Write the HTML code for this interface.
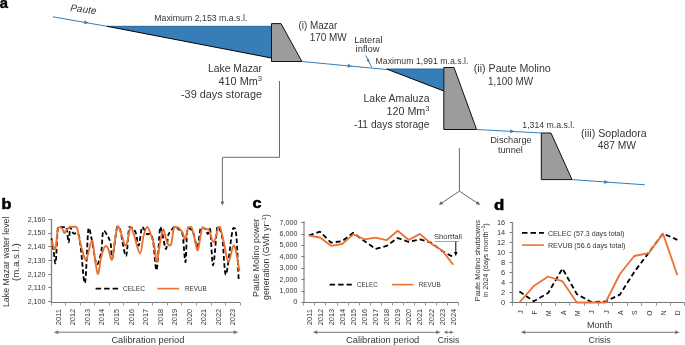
<!DOCTYPE html>
<html><head><meta charset="utf-8"><style>
html,body{margin:0;padding:0;background:#fff;}
svg{display:block;font-family:"Liberation Sans", sans-serif;will-change:transform;}
</style></head><body>
<svg width="685" height="345" viewBox="0 0 685 345">
<rect width="685" height="345" fill="#fff"/>
<text x="-0.3" y="7.8" font-size="15" text-anchor="start" fill="#000" font-weight="bold" textLength="8.2" lengthAdjust="spacingAndGlyphs" stroke="#000" stroke-width="0.4" >a</text>
<text x="70" y="11" font-size="10" font-style="italic" fill="#363636" transform="rotate(7 70 11)">Paute</text>
<line x1="52.8" y1="16.8" x2="107" y2="26.3" stroke="#377eb8" stroke-width="1" />
<polygon points="88.5,23.05738007380074 84.02,24.3 84.71,20.36" fill="#377eb8" stroke="none" stroke-width="1" />
<polygon points="107,26.3 271.5,26.3 271.5,58" fill="#377eb8" stroke="none" stroke-width="1" />
<line x1="107" y1="26.3" x2="271.5" y2="26.3" stroke="#1e5d98" stroke-width="0.9" />
<line x1="107" y1="26.3" x2="271.5" y2="58" stroke="#000" stroke-width="1" />
<polygon points="271.5,23.6 281,23.6 301.9,61.5 271.5,61.5" fill="#9c9c9c" stroke="#111" stroke-width="1" />
<text x="154.3" y="21.2" font-size="8.8" text-anchor="start" fill="#363636" font-weight="normal" textLength="93" lengthAdjust="spacingAndGlyphs"  >Maximum 2,153 m.a.s.l.</text>
<text x="298.4" y="29" font-size="10" text-anchor="start" fill="#363636" font-weight="normal" textLength="39" lengthAdjust="spacingAndGlyphs"  >(i) Mazar</text>
<text x="309.7" y="41.1" font-size="10" text-anchor="start" fill="#363636" font-weight="normal" textLength="37" lengthAdjust="spacingAndGlyphs"  >170 MW</text>
<text x="262" y="72.1" font-size="10" text-anchor="end" fill="#363636" font-weight="normal" textLength="54" lengthAdjust="spacingAndGlyphs"  >Lake Mazar</text>
<text x="262" y="84.8" font-size="10" text-anchor="end" fill="#363636" font-weight="normal" textLength="43.5" lengthAdjust="spacingAndGlyphs"  >410 Mm<tspan font-size="7" dy="-4">3</tspan></text>
<text x="262" y="97.7" font-size="10" text-anchor="end" fill="#363636" font-weight="normal" textLength="81" lengthAdjust="spacingAndGlyphs"  >-39 days storage</text>
<line x1="301.9" y1="61.5" x2="386.6" y2="69.5" stroke="#377eb8" stroke-width="1" />
<polygon points="352,66.23199527744983 347.63,67.83 348.01,63.85" fill="#377eb8" stroke="none" stroke-width="1" />
<line x1="365.7" y1="55.4" x2="371.8" y2="67.6" stroke="#377eb8" stroke-width="1" />
<polygon points="369.3,62.6 366.3,60.19 369.17,58.75" fill="#377eb8" stroke="none" stroke-width="1" />
<text x="354.2" y="42.8" font-size="8.8" text-anchor="start" fill="#363636" font-weight="normal" textLength="28.3" lengthAdjust="spacingAndGlyphs"  >Lateral</text>
<text x="355.6" y="51.6" font-size="8.8" text-anchor="start" fill="#363636" font-weight="normal" textLength="24" lengthAdjust="spacingAndGlyphs"  >inflow</text>
<text x="375.5" y="64.3" font-size="8.8" text-anchor="start" fill="#363636" font-weight="normal" textLength="93" lengthAdjust="spacingAndGlyphs"  >Maximum 1,991 m.a.s.l.</text>
<polygon points="386.6,69 443.8,69 443.8,91" fill="#377eb8" stroke="none" stroke-width="1" />
<line x1="386.6" y1="69" x2="443.8" y2="69" stroke="#1e5d98" stroke-width="0.9" />
<line x1="386.6" y1="69" x2="443.8" y2="91" stroke="#000" stroke-width="1" />
<polygon points="443.8,67.5 454,67.5 476.6,129.5 443.8,129.5" fill="#9c9c9c" stroke="#111" stroke-width="1" />
<text x="473.8" y="72" font-size="10" text-anchor="start" fill="#363636" font-weight="normal" textLength="77" lengthAdjust="spacingAndGlyphs"  >(ii) Paute Molino</text>
<text x="488" y="84.8" font-size="10" text-anchor="start" fill="#363636" font-weight="normal" textLength="45" lengthAdjust="spacingAndGlyphs"  >1,100 MW</text>
<text x="429.5" y="101.5" font-size="10" text-anchor="end" fill="#363636" font-weight="normal" textLength="66" lengthAdjust="spacingAndGlyphs"  >Lake Amaluza</text>
<text x="429.5" y="114.6" font-size="10" text-anchor="end" fill="#363636" font-weight="normal" textLength="43" lengthAdjust="spacingAndGlyphs"  >120 Mm<tspan font-size="7" dy="-4">3</tspan></text>
<text x="429.5" y="127.6" font-size="10" text-anchor="end" fill="#363636" font-weight="normal" textLength="75.5" lengthAdjust="spacingAndGlyphs"  >-11 days storage</text>
<line x1="476.6" y1="129.5" x2="541.3" y2="133" stroke="#377eb8" stroke-width="1" />
<polygon points="514.5,131.55023183925812 510.2,133.32 510.41,129.33" fill="#377eb8" stroke="none" stroke-width="1" />
<text x="522.3" y="128.1" font-size="8.8" text-anchor="start" fill="#363636" font-weight="normal" textLength="52.3" lengthAdjust="spacingAndGlyphs"  >1,314 m.a.s.l.</text>
<text x="490.2" y="143.4" font-size="8.8" text-anchor="start" fill="#363636" font-weight="normal" textLength="41.5" lengthAdjust="spacingAndGlyphs"  >Discharge</text>
<text x="497.9" y="152.7" font-size="8.8" text-anchor="start" fill="#363636" font-weight="normal" textLength="25" lengthAdjust="spacingAndGlyphs"  >tunnel</text>
<polygon points="541.3,133 551,133 572,179.6 541.3,179.6" fill="#9c9c9c" stroke="#111" stroke-width="1" />
<text x="581" y="137.4" font-size="10" text-anchor="start" fill="#363636" font-weight="normal" textLength="65.7" lengthAdjust="spacingAndGlyphs"  >(iii) Sopladora</text>
<text x="597.8" y="149.3" font-size="10" text-anchor="start" fill="#363636" font-weight="normal" textLength="38.2" lengthAdjust="spacingAndGlyphs"  >487 MW</text>
<line x1="572" y1="179.6" x2="644.8" y2="184.8" stroke="#377eb8" stroke-width="1" />
<polygon points="608.5,182.20714285714286 604.17,183.9 604.45,179.91" fill="#377eb8" stroke="none" stroke-width="1" />
<polyline points="279.5,81 279.5,157.3 222.4,157.3 222.4,202" fill="none" stroke="#6b6b6b" stroke-width="1" stroke-linejoin="round" />
<polygon points="222.4,205.6 220.4,201.6 224.4,201.6" fill="#6b6b6b" stroke="none" stroke-width="1" />
<polyline points="459.4,148 459.4,191.2 441,203.5" fill="none" stroke="#6b6b6b" stroke-width="1" stroke-linejoin="round" />
<polyline points="459.4,191.2 478,203.5" fill="none" stroke="#6b6b6b" stroke-width="1" stroke-linejoin="round" />
<polygon points="438.7,205 441.09,201.01 443.3,204.33" fill="#6b6b6b" stroke="none" stroke-width="1" />
<polygon points="480.3,205 475.69,204.35 477.9,201.02" fill="#6b6b6b" stroke="none" stroke-width="1" />
<text x="1.6" y="209.4" font-size="14" text-anchor="start" fill="#000" font-weight="bold" textLength="9.9" lengthAdjust="spacingAndGlyphs" stroke="#000" stroke-width="0.5" >b</text>
<text x="252.5" y="207.6" font-size="14" text-anchor="start" fill="#000" font-weight="bold" textLength="9.0" lengthAdjust="spacingAndGlyphs" stroke="#000" stroke-width="0.5" >c</text>
<text x="494" y="209.8" font-size="14" text-anchor="start" fill="#000" font-weight="bold" textLength="10.3" lengthAdjust="spacingAndGlyphs" stroke="#000" stroke-width="0.5" >d</text>
<line x1="51.5" y1="219" x2="51.5" y2="303.0" stroke="#8a8a8a" stroke-width="1.4" />
<line x1="51.0" y1="302.5" x2="240.1" y2="302.5" stroke="#777777" stroke-width="1" />
<line x1="48.3" y1="219.5" x2="51.5" y2="219.5" stroke="#777777" stroke-width="1" />
<text x="45.5" y="221.8" font-size="6.8" text-anchor="end" fill="#363636" font-weight="normal" textLength="17.8" lengthAdjust="spacingAndGlyphs"  >2,160</text>
<line x1="48.3" y1="233.5" x2="51.5" y2="233.5" stroke="#777777" stroke-width="1" />
<text x="45.5" y="235.48000000000002" font-size="6.8" text-anchor="end" fill="#363636" font-weight="normal" textLength="17.8" lengthAdjust="spacingAndGlyphs"  >2,150</text>
<line x1="48.3" y1="246.5" x2="51.5" y2="246.5" stroke="#777777" stroke-width="1" />
<text x="45.5" y="249.16" font-size="6.8" text-anchor="end" fill="#363636" font-weight="normal" textLength="17.8" lengthAdjust="spacingAndGlyphs"  >2,140</text>
<line x1="48.3" y1="260.5" x2="51.5" y2="260.5" stroke="#777777" stroke-width="1" />
<text x="45.5" y="262.84" font-size="6.8" text-anchor="end" fill="#363636" font-weight="normal" textLength="17.8" lengthAdjust="spacingAndGlyphs"  >2,130</text>
<line x1="48.3" y1="274.5" x2="51.5" y2="274.5" stroke="#777777" stroke-width="1" />
<text x="45.5" y="276.52" font-size="6.8" text-anchor="end" fill="#363636" font-weight="normal" textLength="17.8" lengthAdjust="spacingAndGlyphs"  >2,120</text>
<line x1="48.3" y1="287.5" x2="51.5" y2="287.5" stroke="#777777" stroke-width="1" />
<text x="45.5" y="290.2" font-size="6.8" text-anchor="end" fill="#363636" font-weight="normal" textLength="17.8" lengthAdjust="spacingAndGlyphs"  >2,110</text>
<line x1="48.3" y1="301.5" x2="51.5" y2="301.5" stroke="#777777" stroke-width="1" />
<text x="45.5" y="303.88" font-size="6.8" text-anchor="end" fill="#363636" font-weight="normal" textLength="17.8" lengthAdjust="spacingAndGlyphs"  >2,100</text>
<line x1="51.5" y1="302.5" x2="51.5" y2="305.5" stroke="#999" stroke-width="1" />
<line x1="65.5" y1="302.5" x2="65.5" y2="305.5" stroke="#999" stroke-width="1" />
<line x1="80.5" y1="302.5" x2="80.5" y2="305.5" stroke="#999" stroke-width="1" />
<line x1="94.5" y1="302.5" x2="94.5" y2="305.5" stroke="#999" stroke-width="1" />
<line x1="109.5" y1="302.5" x2="109.5" y2="305.5" stroke="#999" stroke-width="1" />
<line x1="123.5" y1="302.5" x2="123.5" y2="305.5" stroke="#999" stroke-width="1" />
<line x1="138.5" y1="302.5" x2="138.5" y2="305.5" stroke="#999" stroke-width="1" />
<line x1="152.5" y1="302.5" x2="152.5" y2="305.5" stroke="#999" stroke-width="1" />
<line x1="167.5" y1="302.5" x2="167.5" y2="305.5" stroke="#999" stroke-width="1" />
<line x1="181.5" y1="302.5" x2="181.5" y2="305.5" stroke="#999" stroke-width="1" />
<line x1="196.5" y1="302.5" x2="196.5" y2="305.5" stroke="#999" stroke-width="1" />
<line x1="211.5" y1="302.5" x2="211.5" y2="305.5" stroke="#999" stroke-width="1" />
<line x1="225.5" y1="302.5" x2="225.5" y2="305.5" stroke="#999" stroke-width="1" />
<line x1="240.5" y1="302.5" x2="240.5" y2="305.5" stroke="#999" stroke-width="1" />
<text x="60.848" y="308.9" font-size="6.8" text-anchor="end" fill="#363636" transform="rotate(-90 60.848 308.9)" textLength="16.4" lengthAdjust="spacingAndGlyphs">2011</text>
<text x="75.38799999999999" y="308.9" font-size="6.8" text-anchor="end" fill="#363636" transform="rotate(-90 75.38799999999999 308.9)" textLength="16.4" lengthAdjust="spacingAndGlyphs">2012</text>
<text x="89.928" y="308.9" font-size="6.8" text-anchor="end" fill="#363636" transform="rotate(-90 89.928 308.9)" textLength="16.4" lengthAdjust="spacingAndGlyphs">2013</text>
<text x="104.46799999999999" y="308.9" font-size="6.8" text-anchor="end" fill="#363636" transform="rotate(-90 104.46799999999999 308.9)" textLength="16.4" lengthAdjust="spacingAndGlyphs">2014</text>
<text x="119.008" y="308.9" font-size="6.8" text-anchor="end" fill="#363636" transform="rotate(-90 119.008 308.9)" textLength="16.4" lengthAdjust="spacingAndGlyphs">2015</text>
<text x="133.548" y="308.9" font-size="6.8" text-anchor="end" fill="#363636" transform="rotate(-90 133.548 308.9)" textLength="16.4" lengthAdjust="spacingAndGlyphs">2016</text>
<text x="148.088" y="308.9" font-size="6.8" text-anchor="end" fill="#363636" transform="rotate(-90 148.088 308.9)" textLength="16.4" lengthAdjust="spacingAndGlyphs">2017</text>
<text x="162.62800000000001" y="308.9" font-size="6.8" text-anchor="end" fill="#363636" transform="rotate(-90 162.62800000000001 308.9)" textLength="16.4" lengthAdjust="spacingAndGlyphs">2018</text>
<text x="177.168" y="308.9" font-size="6.8" text-anchor="end" fill="#363636" transform="rotate(-90 177.168 308.9)" textLength="16.4" lengthAdjust="spacingAndGlyphs">2019</text>
<text x="191.708" y="308.9" font-size="6.8" text-anchor="end" fill="#363636" transform="rotate(-90 191.708 308.9)" textLength="16.4" lengthAdjust="spacingAndGlyphs">2020</text>
<text x="206.24800000000002" y="308.9" font-size="6.8" text-anchor="end" fill="#363636" transform="rotate(-90 206.24800000000002 308.9)" textLength="16.4" lengthAdjust="spacingAndGlyphs">2021</text>
<text x="220.788" y="308.9" font-size="6.8" text-anchor="end" fill="#363636" transform="rotate(-90 220.788 308.9)" textLength="16.4" lengthAdjust="spacingAndGlyphs">2022</text>
<text x="235.328" y="308.9" font-size="6.8" text-anchor="end" fill="#363636" transform="rotate(-90 235.328 308.9)" textLength="16.4" lengthAdjust="spacingAndGlyphs">2023</text>
<text x="9.0" y="261.8" font-size="9" text-anchor="middle" fill="#363636" transform="rotate(-90 9.0 261.8)" textLength="90.5" lengthAdjust="spacingAndGlyphs">Lake Mazar water level</text>
<text x="19.2" y="262.2" font-size="9" text-anchor="middle" fill="#363636" transform="rotate(-90 19.2 262.2)" textLength="37.7" lengthAdjust="spacingAndGlyphs">(m.a.s.l.)</text>
<path d="M51.5,238.4 C51.83,240.33 52.80,245.95 53.5,250 C54.20,254.05 54.95,266.50 55.7,262.7 C56.45,258.90 56.92,233.12 58,227.2 C59.08,227.20 60.83,227.23 62.2,227.2 C63.57,227.20 65.12,227.00 66.2,227 C67.28,229.53 68.02,242.40 68.7,242.4 C69.38,242.40 69.53,228.52 70.3,227 C71.07,227.00 71.95,232.08 73.3,233.3 C74.65,234.52 77.12,231.52 78.4,234.3 C79.68,237.08 79.90,241.92 81,250 C82.10,258.08 83.75,286.45 85,282.8 C86.25,279.15 87.33,235.08 88.5,228.1 C89.67,227.20 90.65,234.88 92,240.9 C93.35,246.92 95.05,262.45 96.6,264.2 C98.15,265.95 100.22,256.83 101.3,251.4 C102.38,245.97 102.13,234.32 103.1,231.6 C104.07,228.88 105.85,233.17 107.1,235.1 C108.35,237.03 109.72,239.38 110.6,243.2 C111.48,247.02 111.32,260.70 112.4,258 C113.48,255.30 115.82,231.78 117.1,227 C118.38,227.00 118.62,227.20 120.1,229.3 C121.58,234.13 124.45,256.38 126,256 C127.55,255.62 127.85,231.07 129.4,227 C130.95,227.00 133.75,228.50 135.3,231.6 C136.85,234.70 137.55,246.37 138.7,245.6 C139.85,244.83 140.83,228.93 142.2,227 C143.57,227.00 145.65,232.83 146.9,234 C148.15,235.17 148.67,232.85 149.7,234 C150.73,235.15 151.95,234.90 153.1,240.9 C154.25,246.90 155.43,272.32 156.6,270 C157.77,267.68 159.13,233.00 160.1,227 C161.07,227.00 161.43,230.33 162.4,234 C163.37,237.67 164.92,248.82 165.9,249 C166.88,249.18 167.52,238.00 168.3,235.1 C169.08,232.20 169.63,232.95 170.6,231.6 C171.57,230.25 172.75,227.38 174.1,227 C175.45,227.00 177.30,228.13 178.7,229.3 C180.10,230.47 181.37,228.55 182.5,234 C183.63,239.45 184.67,262.78 185.5,262 C186.33,261.22 186.28,234.37 187.5,229.3 C188.72,227.20 191.15,228.70 192.8,231.6 C194.45,234.50 196.05,247.40 197.4,246.7 C198.75,246.00 199.53,230.30 200.9,227.4 C202.27,227.20 204.43,228.20 205.6,229.3 C206.77,230.40 207.13,234.00 207.9,234 C208.67,234.00 209.33,227.20 210.2,229.3 C211.07,234.52 211.93,265.68 213.1,265.3 C214.27,264.92 216.22,233.20 217.2,227 C218.18,227.00 218.13,227.20 219,228.1 C219.87,230.03 221.25,230.85 222.4,238.6 C223.55,246.35 224.35,275.18 225.9,274.6 C227.45,274.02 230.33,242.85 231.7,235.1 C233.07,227.35 233.32,227.90 234.1,228.1 C234.88,228.30 235.63,227.58 236.4,236.3 C237.17,245.02 238.32,273.05 238.7,280.4" fill="none" stroke="#000" stroke-width="1.8" stroke-linejoin="round" stroke-dasharray="4.5 2.6"/>
<path d="M51.5,239.8 C52.12,241.40 54.15,251.12 55.2,249.4 C56.25,247.68 57.05,233.20 57.8,229.5 C58.55,226.80 58.93,227.28 59.7,227.2 C60.47,227.12 61.63,228.03 62.4,229 C63.17,229.97 63.65,232.77 64.3,233 C64.95,233.23 65.43,231.40 66.3,230.4 C67.17,229.40 68.38,227.60 69.5,227 C70.62,226.80 71.92,226.83 73,226.8 C74.08,226.80 75.23,226.80 76,226.8 C76.77,227.30 77.02,227.67 77.6,229.8 C78.18,231.93 78.67,236.02 79.5,239.6 C80.33,243.18 81.48,247.98 82.6,251.3 C83.72,254.62 84.67,261.30 86.2,259.5 C87.73,257.70 90.42,241.25 91.8,240.5 C93.18,239.75 93.50,249.42 94.5,255 C95.50,260.58 96.72,273.50 97.8,274 C98.88,274.50 99.87,262.50 101,258 C102.13,253.50 103.43,248.63 104.6,247 C105.77,245.37 106.77,246.08 108,248.2 C109.23,250.32 110.83,261.07 112,259.7 C113.17,258.33 114.03,245.62 115,240 C115.97,234.38 116.80,227.17 117.8,226 C118.80,226.00 119.63,229.73 121,233 C122.37,236.27 124.40,246.60 126,245.6 C127.60,244.60 129.27,228.77 130.6,227 C131.93,226.80 132.43,230.58 134,235 C135.57,239.42 138.42,253.33 140,253.5 C141.58,253.67 142.28,240.42 143.5,236 C144.72,231.58 146.00,227.00 147.3,227 C148.60,227.00 150.10,232.67 151.3,236 C152.50,239.33 153.58,242.67 154.5,247 C155.42,251.33 155.88,262.67 156.8,262 C157.72,261.33 158.93,248.40 160,243 C161.07,237.60 162.23,230.43 163.2,229.6 C164.17,228.77 164.97,235.52 165.8,238 C166.63,240.48 167.30,243.52 168.2,244.5 C169.10,245.48 170.23,246.73 171.2,243.9 C172.17,241.07 173.00,230.28 174,227.5 C175.00,226.80 176.27,226.98 177.2,227.2 C178.13,227.42 178.68,227.88 179.6,228.8 C180.52,229.72 181.78,230.92 182.7,232.7 C183.62,234.48 184.17,240.42 185.1,239.5 C186.03,238.58 187.23,229.25 188.3,227.2 C189.37,226.80 190.43,226.80 191.5,227.2 C192.57,229.17 193.63,235.20 194.7,239 C195.77,242.80 196.67,251.82 197.9,250 C199.13,248.18 200.63,231.55 202.1,228.1 C203.57,226.80 205.53,228.92 206.7,229.3 C207.87,229.68 207.93,228.27 209.1,230.4 C210.27,232.53 212.15,242.67 213.7,242.1 C215.25,241.53 217.33,229.52 218.4,227 C219.47,226.80 219.17,226.80 220.1,227 C221.03,229.67 222.63,237.20 224,243 C225.37,248.80 226.62,261.37 228.3,261.8 C229.98,262.23 232.25,244.05 234.1,245.6 C235.95,247.15 238.52,266.85 239.4,271.1" fill="none" stroke="#eb7132" stroke-width="1.9" stroke-linejoin="round" />
<line x1="95.6" y1="288.6" x2="118.1" y2="288.6" stroke="#000" stroke-width="1.8" stroke-dasharray="5.5 3"/>
<text x="122.9" y="291.2" font-size="7.2" text-anchor="start" fill="#363636" font-weight="normal" textLength="22" lengthAdjust="spacingAndGlyphs"  >CELEC</text>
<line x1="157.4" y1="288.6" x2="179.1" y2="288.6" stroke="#eb7132" stroke-width="1.6" />
<text x="185" y="291.2" font-size="7.2" text-anchor="start" fill="#363636" font-weight="normal" textLength="21.8" lengthAdjust="spacingAndGlyphs"  >REVUB</text>
<line x1="57.3" y1="332.2" x2="234.7" y2="332.2" stroke="#777777" stroke-width="1" />
<polygon points="53.8,332.2 58.3,330.2 58.3,334.2" fill="#777777" stroke="none" stroke-width="1" />
<polygon points="238.2,332.2 233.7,334.2 233.7,330.2" fill="#777777" stroke="none" stroke-width="1" />
<text x="111.4" y="343.2" font-size="9.3" text-anchor="start" fill="#363636" font-weight="normal" textLength="73" lengthAdjust="spacingAndGlyphs"  >Calibration period</text>
<line x1="304" y1="221.5" x2="304" y2="303.0" stroke="#a8a8a8" stroke-width="1.7" />
<line x1="304.0" y1="302.5" x2="458.8" y2="302.5" stroke="#777777" stroke-width="1" />
<line x1="301.3" y1="302.5" x2="304.5" y2="302.5" stroke="#777777" stroke-width="1" />
<text x="297.4" y="304.4" font-size="6.8" text-anchor="end" fill="#363636" font-weight="normal" textLength="4.2" lengthAdjust="spacingAndGlyphs"  >0</text>
<line x1="301.3" y1="291.5" x2="304.5" y2="291.5" stroke="#777777" stroke-width="1" />
<text x="297.4" y="293.01" font-size="6.8" text-anchor="end" fill="#363636" font-weight="normal" textLength="17.8" lengthAdjust="spacingAndGlyphs"  >1,000</text>
<line x1="301.3" y1="279.5" x2="304.5" y2="279.5" stroke="#777777" stroke-width="1" />
<text x="297.4" y="281.62" font-size="6.8" text-anchor="end" fill="#363636" font-weight="normal" textLength="17.8" lengthAdjust="spacingAndGlyphs"  >2,000</text>
<line x1="301.3" y1="268.5" x2="304.5" y2="268.5" stroke="#777777" stroke-width="1" />
<text x="297.4" y="270.23" font-size="6.8" text-anchor="end" fill="#363636" font-weight="normal" textLength="17.8" lengthAdjust="spacingAndGlyphs"  >3,000</text>
<line x1="301.3" y1="256.5" x2="304.5" y2="256.5" stroke="#777777" stroke-width="1" />
<text x="297.4" y="258.84" font-size="6.8" text-anchor="end" fill="#363636" font-weight="normal" textLength="17.8" lengthAdjust="spacingAndGlyphs"  >4,000</text>
<line x1="301.3" y1="245.5" x2="304.5" y2="245.5" stroke="#777777" stroke-width="1" />
<text x="297.4" y="247.45" font-size="6.8" text-anchor="end" fill="#363636" font-weight="normal" textLength="17.8" lengthAdjust="spacingAndGlyphs"  >5,000</text>
<line x1="301.3" y1="234.5" x2="304.5" y2="234.5" stroke="#777777" stroke-width="1" />
<text x="297.4" y="236.06" font-size="6.8" text-anchor="end" fill="#363636" font-weight="normal" textLength="17.8" lengthAdjust="spacingAndGlyphs"  >6,000</text>
<line x1="301.3" y1="222.5" x2="304.5" y2="222.5" stroke="#777777" stroke-width="1" />
<text x="297.4" y="224.67" font-size="6.8" text-anchor="end" fill="#363636" font-weight="normal" textLength="17.8" lengthAdjust="spacingAndGlyphs"  >7,000</text>
<line x1="303.5" y1="302.5" x2="303.5" y2="305.5" stroke="#999" stroke-width="1" />
<line x1="314.5" y1="302.5" x2="314.5" y2="305.5" stroke="#999" stroke-width="1" />
<line x1="325.5" y1="302.5" x2="325.5" y2="305.5" stroke="#999" stroke-width="1" />
<line x1="337.5" y1="302.5" x2="337.5" y2="305.5" stroke="#999" stroke-width="1" />
<line x1="348.5" y1="302.5" x2="348.5" y2="305.5" stroke="#999" stroke-width="1" />
<line x1="359.5" y1="302.5" x2="359.5" y2="305.5" stroke="#999" stroke-width="1" />
<line x1="370.5" y1="302.5" x2="370.5" y2="305.5" stroke="#999" stroke-width="1" />
<line x1="381.5" y1="302.5" x2="381.5" y2="305.5" stroke="#999" stroke-width="1" />
<line x1="392.5" y1="302.5" x2="392.5" y2="305.5" stroke="#999" stroke-width="1" />
<line x1="403.5" y1="302.5" x2="403.5" y2="305.5" stroke="#999" stroke-width="1" />
<line x1="414.5" y1="302.5" x2="414.5" y2="305.5" stroke="#999" stroke-width="1" />
<line x1="425.5" y1="302.5" x2="425.5" y2="305.5" stroke="#999" stroke-width="1" />
<line x1="436.5" y1="302.5" x2="436.5" y2="305.5" stroke="#999" stroke-width="1" />
<line x1="447.5" y1="302.5" x2="447.5" y2="305.5" stroke="#999" stroke-width="1" />
<line x1="458.5" y1="302.5" x2="458.5" y2="305.5" stroke="#999" stroke-width="1" />
<text x="311.748" y="308.9" font-size="6.8" text-anchor="end" fill="#363636" transform="rotate(-90 311.748 308.9)" textLength="16.4" lengthAdjust="spacingAndGlyphs">2011</text>
<text x="322.818" y="308.9" font-size="6.8" text-anchor="end" fill="#363636" transform="rotate(-90 322.818 308.9)" textLength="16.4" lengthAdjust="spacingAndGlyphs">2012</text>
<text x="333.888" y="308.9" font-size="6.8" text-anchor="end" fill="#363636" transform="rotate(-90 333.888 308.9)" textLength="16.4" lengthAdjust="spacingAndGlyphs">2013</text>
<text x="344.95799999999997" y="308.9" font-size="6.8" text-anchor="end" fill="#363636" transform="rotate(-90 344.95799999999997 308.9)" textLength="16.4" lengthAdjust="spacingAndGlyphs">2014</text>
<text x="356.02799999999996" y="308.9" font-size="6.8" text-anchor="end" fill="#363636" transform="rotate(-90 356.02799999999996 308.9)" textLength="16.4" lengthAdjust="spacingAndGlyphs">2015</text>
<text x="367.09799999999996" y="308.9" font-size="6.8" text-anchor="end" fill="#363636" transform="rotate(-90 367.09799999999996 308.9)" textLength="16.4" lengthAdjust="spacingAndGlyphs">2016</text>
<text x="378.168" y="308.9" font-size="6.8" text-anchor="end" fill="#363636" transform="rotate(-90 378.168 308.9)" textLength="16.4" lengthAdjust="spacingAndGlyphs">2017</text>
<text x="389.238" y="308.9" font-size="6.8" text-anchor="end" fill="#363636" transform="rotate(-90 389.238 308.9)" textLength="16.4" lengthAdjust="spacingAndGlyphs">2018</text>
<text x="400.308" y="308.9" font-size="6.8" text-anchor="end" fill="#363636" transform="rotate(-90 400.308 308.9)" textLength="16.4" lengthAdjust="spacingAndGlyphs">2019</text>
<text x="411.378" y="308.9" font-size="6.8" text-anchor="end" fill="#363636" transform="rotate(-90 411.378 308.9)" textLength="16.4" lengthAdjust="spacingAndGlyphs">2020</text>
<text x="422.448" y="308.9" font-size="6.8" text-anchor="end" fill="#363636" transform="rotate(-90 422.448 308.9)" textLength="16.4" lengthAdjust="spacingAndGlyphs">2021</text>
<text x="433.518" y="308.9" font-size="6.8" text-anchor="end" fill="#363636" transform="rotate(-90 433.518 308.9)" textLength="16.4" lengthAdjust="spacingAndGlyphs">2022</text>
<text x="444.58799999999997" y="308.9" font-size="6.8" text-anchor="end" fill="#363636" transform="rotate(-90 444.58799999999997 308.9)" textLength="16.4" lengthAdjust="spacingAndGlyphs">2023</text>
<text x="455.65799999999996" y="308.9" font-size="6.8" text-anchor="end" fill="#363636" transform="rotate(-90 455.65799999999996 308.9)" textLength="16.4" lengthAdjust="spacingAndGlyphs">2024</text>
<text x="258.8" y="257.9" font-size="9" text-anchor="middle" fill="#363636" transform="rotate(-90 258.8 257.9)" textLength="78.2" lengthAdjust="spacingAndGlyphs">Paute Molino power</text>
<text x="268.9" y="257.0" font-size="9" text-anchor="middle" fill="#363636" transform="rotate(-90 268.9 257.0)" textLength="85.9" lengthAdjust="spacingAndGlyphs">generation (GWh yr<tspan font-size="6" dy="-3">−1</tspan><tspan dy="3">)</tspan></text>
<polyline points="308.8,235.4 319.91,231.7 331.02,242.6 342.13,241.2 353.24,232.8 364.35,241.0 375.46,248.9 386.57,245.9 397.68,238 408.79,242 419.9,239.3 431.01,242.6 442.12,251 453.23,257" fill="none" stroke="#000" stroke-width="1.8" stroke-linejoin="round" stroke-dasharray="5 3"/>
<polyline points="308.8,235.5 319.91,237.5 331.02,245.8 342.13,244 353.24,234.4 364.35,239.3 375.46,237.6 386.57,240.2 397.68,230.7 408.79,240 419.9,233.9 431.01,243.5 442.12,250.4 453.23,264.8" fill="none" stroke="#eb7132" stroke-width="1.8" stroke-linejoin="round" />
<line x1="329.6" y1="284.6" x2="351.8" y2="284.6" stroke="#000" stroke-width="1.8" stroke-dasharray="5.5 3"/>
<text x="356.9" y="287.2" font-size="7.2" text-anchor="start" fill="#363636" font-weight="normal" textLength="20.9" lengthAdjust="spacingAndGlyphs"  >CELEC</text>
<line x1="392" y1="284.6" x2="413.5" y2="284.6" stroke="#eb7132" stroke-width="1.6" />
<text x="418.8" y="287.2" font-size="7.2" text-anchor="start" fill="#363636" font-weight="normal" textLength="21.8" lengthAdjust="spacingAndGlyphs"  >REVUB</text>
<text x="433.9" y="238.6" font-size="7.6" text-anchor="start" fill="#363636" font-weight="normal" textLength="28" lengthAdjust="spacingAndGlyphs"  >Shortfall</text>
<line x1="434.8" y1="241.5" x2="458.8" y2="241.5" stroke="#a5a5a5" stroke-width="1" />
<line x1="455.8" y1="241.5" x2="455.8" y2="252.5" stroke="#000" stroke-width="1" />
<polygon points="455.8,256.3 454.0,252.1 457.6,252.1" fill="#000" stroke="none" stroke-width="1" />
<line x1="316.3" y1="332.3" x2="437.2" y2="332.3" stroke="#777777" stroke-width="1" />
<polygon points="312.8,332.3 317.3,330.3 317.3,334.3" fill="#777777" stroke="none" stroke-width="1" />
<polygon points="440.7,332.3 436.2,334.3 436.2,330.3" fill="#777777" stroke="none" stroke-width="1" />
<line x1="446.3" y1="332.3" x2="451.2" y2="332.3" stroke="#777777" stroke-width="1" />
<polygon points="443.8,332.3 447.3,330.5 447.3,334.1" fill="#777777" stroke="none" stroke-width="1" />
<polygon points="453.7,332.3 450.2,334.1 450.2,330.5" fill="#777777" stroke="none" stroke-width="1" />
<text x="346" y="343.2" font-size="9.3" text-anchor="start" fill="#363636" font-weight="normal" textLength="73.3" lengthAdjust="spacingAndGlyphs"  >Calibration period</text>
<text x="437.8" y="343.0" font-size="9.3" text-anchor="start" fill="#363636" font-weight="normal" textLength="21.5" lengthAdjust="spacingAndGlyphs"  >Crisis</text>
<line x1="512.5" y1="222" x2="512.5" y2="303.0" stroke="#8a8a8a" stroke-width="1.4" />
<line x1="512.0" y1="302.5" x2="684.6" y2="302.5" stroke="#777777" stroke-width="1" />
<line x1="509.6" y1="302.5" x2="512.5" y2="302.5" stroke="#777777" stroke-width="1" />
<text x="505.2" y="304.7" font-size="6.8" text-anchor="end" fill="#363636" font-weight="normal" textLength="4.2" lengthAdjust="spacingAndGlyphs"  >0</text>
<line x1="509.6" y1="292.5" x2="512.5" y2="292.5" stroke="#777777" stroke-width="1" />
<text x="505.2" y="294.69" font-size="6.8" text-anchor="end" fill="#363636" font-weight="normal" textLength="4.2" lengthAdjust="spacingAndGlyphs"  >2</text>
<line x1="509.6" y1="282.5" x2="512.5" y2="282.5" stroke="#777777" stroke-width="1" />
<text x="505.2" y="284.68" font-size="6.8" text-anchor="end" fill="#363636" font-weight="normal" textLength="4.2" lengthAdjust="spacingAndGlyphs"  >4</text>
<line x1="509.6" y1="272.5" x2="512.5" y2="272.5" stroke="#777777" stroke-width="1" />
<text x="505.2" y="274.67" font-size="6.8" text-anchor="end" fill="#363636" font-weight="normal" textLength="4.2" lengthAdjust="spacingAndGlyphs"  >6</text>
<line x1="509.6" y1="262.5" x2="512.5" y2="262.5" stroke="#777777" stroke-width="1" />
<text x="505.2" y="264.65999999999997" font-size="6.8" text-anchor="end" fill="#363636" font-weight="normal" textLength="4.2" lengthAdjust="spacingAndGlyphs"  >8</text>
<line x1="509.6" y1="252.5" x2="512.5" y2="252.5" stroke="#777777" stroke-width="1" />
<text x="505.2" y="254.64999999999998" font-size="6.8" text-anchor="end" fill="#363636" font-weight="normal" textLength="8.2" lengthAdjust="spacingAndGlyphs"  >10</text>
<line x1="509.6" y1="242.5" x2="512.5" y2="242.5" stroke="#777777" stroke-width="1" />
<text x="505.2" y="244.64" font-size="6.8" text-anchor="end" fill="#363636" font-weight="normal" textLength="8.2" lengthAdjust="spacingAndGlyphs"  >12</text>
<line x1="509.6" y1="232.5" x2="512.5" y2="232.5" stroke="#777777" stroke-width="1" />
<text x="505.2" y="234.63" font-size="6.8" text-anchor="end" fill="#363636" font-weight="normal" textLength="8.2" lengthAdjust="spacingAndGlyphs"  >14</text>
<line x1="509.6" y1="222.5" x2="512.5" y2="222.5" stroke="#777777" stroke-width="1" />
<text x="505.2" y="224.61999999999998" font-size="6.8" text-anchor="end" fill="#363636" font-weight="normal" textLength="8.2" lengthAdjust="spacingAndGlyphs"  >16</text>
<line x1="512.5" y1="302.5" x2="512.5" y2="305.8" stroke="#999" stroke-width="1" />
<line x1="526.5" y1="302.5" x2="526.5" y2="305.8" stroke="#999" stroke-width="1" />
<line x1="541.5" y1="302.5" x2="541.5" y2="305.8" stroke="#999" stroke-width="1" />
<line x1="555.5" y1="302.5" x2="555.5" y2="305.8" stroke="#999" stroke-width="1" />
<line x1="569.5" y1="302.5" x2="569.5" y2="305.8" stroke="#999" stroke-width="1" />
<line x1="584.5" y1="302.5" x2="584.5" y2="305.8" stroke="#999" stroke-width="1" />
<line x1="598.5" y1="302.5" x2="598.5" y2="305.8" stroke="#999" stroke-width="1" />
<line x1="612.5" y1="302.5" x2="612.5" y2="305.8" stroke="#999" stroke-width="1" />
<line x1="627.5" y1="302.5" x2="627.5" y2="305.8" stroke="#999" stroke-width="1" />
<line x1="641.5" y1="302.5" x2="641.5" y2="305.8" stroke="#999" stroke-width="1" />
<line x1="656.5" y1="302.5" x2="656.5" y2="305.8" stroke="#999" stroke-width="1" />
<line x1="670.5" y1="302.5" x2="670.5" y2="305.8" stroke="#999" stroke-width="1" />
<line x1="684.5" y1="302.5" x2="684.5" y2="305.8" stroke="#999" stroke-width="1" />
<text x="522.548" y="310.4" font-size="6.8" text-anchor="end" fill="#363636" transform="rotate(-90 522.548 310.4)">J</text>
<text x="536.908" y="310.4" font-size="6.8" text-anchor="end" fill="#363636" transform="rotate(-90 536.908 310.4)">F</text>
<text x="551.268" y="310.4" font-size="6.8" text-anchor="end" fill="#363636" transform="rotate(-90 551.268 310.4)">M</text>
<text x="565.6279999999999" y="310.4" font-size="6.8" text-anchor="end" fill="#363636" transform="rotate(-90 565.6279999999999 310.4)">A</text>
<text x="579.9879999999999" y="310.4" font-size="6.8" text-anchor="end" fill="#363636" transform="rotate(-90 579.9879999999999 310.4)">M</text>
<text x="594.348" y="310.4" font-size="6.8" text-anchor="end" fill="#363636" transform="rotate(-90 594.348 310.4)">J</text>
<text x="608.708" y="310.4" font-size="6.8" text-anchor="end" fill="#363636" transform="rotate(-90 608.708 310.4)">J</text>
<text x="623.068" y="310.4" font-size="6.8" text-anchor="end" fill="#363636" transform="rotate(-90 623.068 310.4)">A</text>
<text x="637.428" y="310.4" font-size="6.8" text-anchor="end" fill="#363636" transform="rotate(-90 637.428 310.4)">S</text>
<text x="651.788" y="310.4" font-size="6.8" text-anchor="end" fill="#363636" transform="rotate(-90 651.788 310.4)">O</text>
<text x="666.148" y="310.4" font-size="6.8" text-anchor="end" fill="#363636" transform="rotate(-90 666.148 310.4)">N</text>
<text x="680.5079999999999" y="310.4" font-size="6.8" text-anchor="end" fill="#363636" transform="rotate(-90 680.5079999999999 310.4)">D</text>
<text x="480.2" y="260.6" font-size="8" text-anchor="middle" fill="#363636" transform="rotate(-90 480.2 260.6)" textLength="81.4" lengthAdjust="spacingAndGlyphs">Paute Molino shutdowns</text>
<text x="487.9" y="260.4" font-size="8" text-anchor="middle" fill="#363636" transform="rotate(-90 487.9 260.4)" textLength="74.1" lengthAdjust="spacingAndGlyphs">in 2024 (days month<tspan font-size="5.5" dy="-3">−1</tspan><tspan dy="3">)</tspan></text>
<polyline points="519.4,291.4 533.76,301.3 548.12,293 562.48,268.6 576.84,294.1 591.2,302 605.56,301.5 619.92,294.6 634.28,272 648.64,252.8 663.0,233.6 677.36,239.8" fill="none" stroke="#000" stroke-width="1.8" stroke-linejoin="round" stroke-dasharray="5 3"/>
<polyline points="519.4,302.5 533.76,286.1 548.12,276.5 562.48,281.3 576.84,302.5 591.2,302.5 605.56,302.5 619.92,274 634.28,256 648.64,253.2 663.0,233.6 677.36,275.2" fill="none" stroke="#eb7132" stroke-width="1.8" stroke-linejoin="round" />
<line x1="522" y1="232.9" x2="543.9" y2="232.9" stroke="#000" stroke-width="1.8" stroke-dasharray="5.5 3"/>
<text x="547.9" y="235.8" font-size="7.2" text-anchor="start" fill="#363636" font-weight="normal" textLength="76.6" lengthAdjust="spacingAndGlyphs"  >CELEC (57.3 days total)</text>
<line x1="522" y1="245.1" x2="543.9" y2="245.1" stroke="#eb7132" stroke-width="1.6" />
<text x="547.9" y="248.0" font-size="7.2" text-anchor="start" fill="#363636" font-weight="normal" textLength="77.5" lengthAdjust="spacingAndGlyphs"  >REVUB (56.6 days total)</text>
<text x="587" y="327.8" font-size="9.3" text-anchor="start" fill="#363636" font-weight="normal" textLength="25.2" lengthAdjust="spacingAndGlyphs"  >Month</text>
<line x1="524.3" y1="332.3" x2="676.2" y2="332.3" stroke="#777777" stroke-width="1" />
<polygon points="520.8,332.3 525.3,330.3 525.3,334.3" fill="#777777" stroke="none" stroke-width="1" />
<polygon points="679.7,332.3 675.2,334.3 675.2,330.3" fill="#777777" stroke="none" stroke-width="1" />
<text x="588.6" y="342.8" font-size="9.3" text-anchor="start" fill="#363636" font-weight="normal" textLength="22" lengthAdjust="spacingAndGlyphs"  >Crisis</text>
</svg>
</body></html>
